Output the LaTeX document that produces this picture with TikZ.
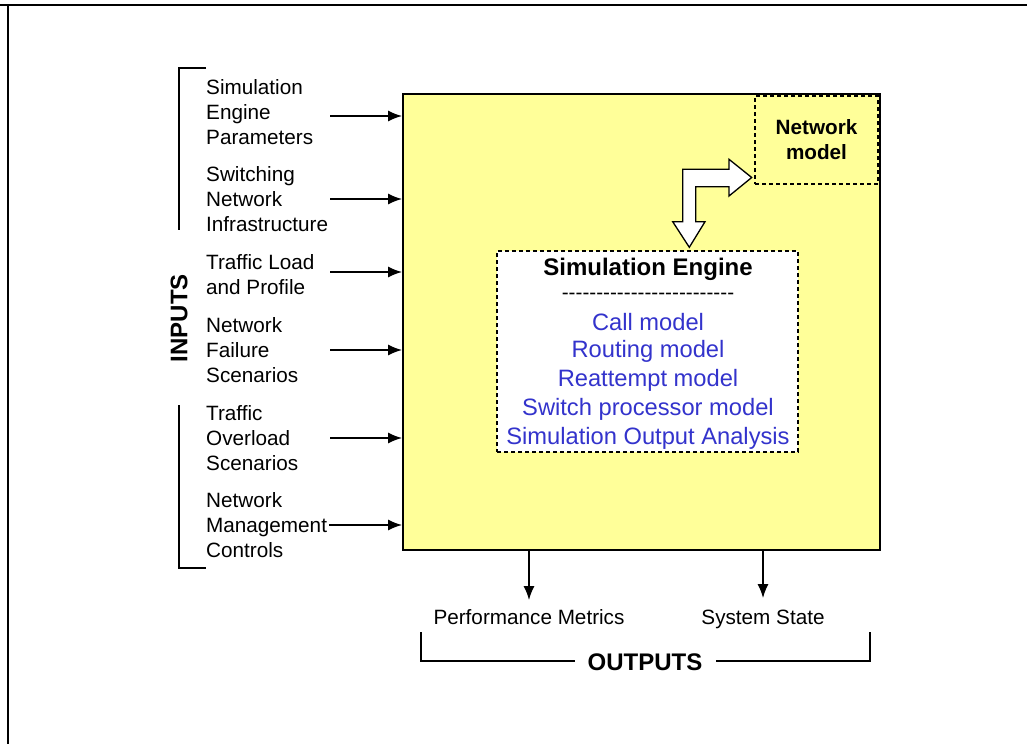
\documentclass[tikz,border=0pt]{standalone}
\usepackage{fontspec}
\setmainfont{Liberation Sans}
\newfontfamily\nolig{Liberation Sans}[Ligatures=TeXOff]
\usetikzlibrary{arrows.meta}
\definecolor{boxyellow}{RGB}{255,255,153}
\definecolor{modelblue}{RGB}{51,51,204}
\tikzset{
  lbl/.style={font=\fontsize{20.7}{25}\selectfont, inner sep=0pt, align=left, anchor=west},
  ctext/.style={font=\fontsize{20.7}{25}\selectfont, inner sep=0pt},
  btext/.style={font=\fontsize{20.7}{25}\selectfont\bfseries, inner sep=0pt},
  bigbold/.style={font=\fontsize{24}{28}\selectfont\bfseries, inner sep=0pt},
  bluetext/.style={font=\fontsize{23.7}{28}\selectfont, text=modelblue, inner sep=0pt},
  arr/.style={line width=1.3pt, -{Latex[length=14pt,width=11pt]}},
  dashbox/.style={draw, line width=1.5pt, dash pattern=on 4pt off 3pt, inner sep=0pt},
  brk/.style={line width=1.3pt},
}
\begin{document}
\begin{tikzpicture}[x=1pt,y=-1pt]
\useasboundingbox (0,0) rectangle (1027,744);
% outer frame
\draw[line width=1.3pt] (0,5) -- (1027,5);
\draw[line width=1.3pt] (8,5) -- (8,744);
% main box
\node[draw, fill=boxyellow, line width=2pt, minimum width=477pt, minimum height=456pt, inner sep=0pt] (main) at (641.5,322) {};
% network model
\node[dashbox, fill=boxyellow, minimum width=123pt, minimum height=88pt] (nm) at (816.5,140) {};
\node[btext, align=center] (nmt) at (816.5,139.5) {Network\\model};
% simulation engine box
\node[dashbox, fill=white, minimum width=301pt, minimum height=201pt] (se) at (647.5,351.5) {};
\node[bigbold] (set) at (648,269) {Simulation Engine};
\node[ctext] (dash) at (648,296) {\nolig -------------------------};
\node[bluetext] (b1) at (648,322) {Call model};
\node[bluetext] (b2) at (648,351.5) {Routing model};
\node[bluetext] (b3) at (648,380.5) {Reattempt model};
\node[bluetext] (b4) at (648,409) {Switch processor model};
\node[bluetext] (b5) at (648,438) {Simulation Output Analysis};
% block arrow
\draw[line width=1.3pt, fill=white, line join=miter]
  (751.7,177.5) -- (729,196) -- (729,186.7) -- (695.7,186.7) -- (695.7,221.7)
  -- (705,221.7) -- (689.3,247.3) -- (672.7,221.7) -- (682.7,221.7)
  -- (682.7,169.3) -- (729,169.3) -- (729,159.3) -- cycle;
% inputs
\node[lbl] (in1) at (206,112) {Simulation\\Engine\\Parameters};
\node[lbl] (in2) at (206,199) {Switching\\Network\\Infrastructure};
\node[lbl] (in3) at (206,274.5) {Traffic Load\\and Profile};
\node[lbl] (in4) at (206,350) {Network\\Failure\\Scenarios};
\node[lbl] (in5) at (206,438) {Traffic\\Overload\\Scenarios};
\node[lbl] (in6) at (206,525) {Network\\Management\\Controls};
\coordinate (s1) at (330,116);
\coordinate (s2) at (330,199);
\coordinate (s3) at (330,272);
\coordinate (s4) at (330,350);
\coordinate (s5) at (330,438);
\coordinate (s6) at (329,525);
\foreach \i in {1,...,6}{
  \draw[arr] (s\i) -- (main.west |- s\i);
}
% brackets
\draw[brk] (206,68) -- (179,68) -- (179,230);
\draw[brk] (179,405) -- (179,568) -- (206,568);
\node[bigbold, rotate=90] (inputs) at (179,318) {INPUTS};
% outputs
\node[ctext, anchor=base] (pm) at (529,624.5) {Performance Metrics};
\node[ctext, anchor=base] (ss) at (763,624.5) {System State};
\coordinate (o1) at (529,550);
\coordinate (o2) at (763,550);
\draw[arr] (o1) -- (529,600);
\draw[arr] (o2) -- (763,598);
\node[bigbold] (outs) at (645,662) {OUTPUTS};
\draw[brk] (421,632) -- (421,661) -- (575,661);
\draw[brk] (716,661) -- (870,661) -- (870,632);
\end{tikzpicture}
\end{document}
